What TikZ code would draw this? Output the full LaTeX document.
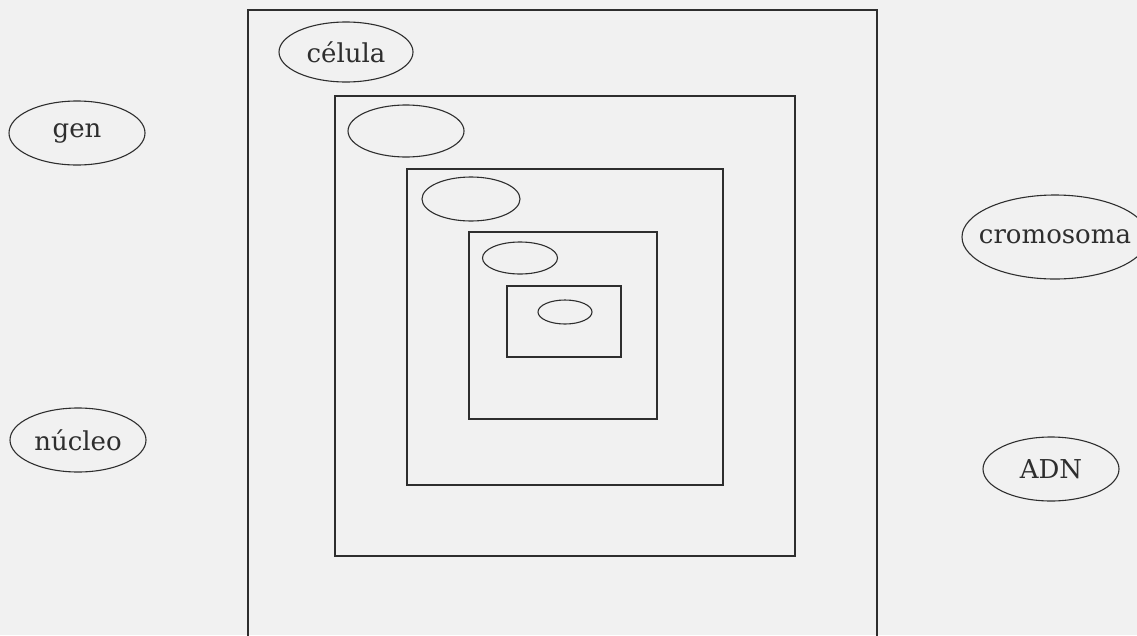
\documentclass[tikz,border=0pt]{standalone}
\usepackage{fontspec}
\setmainfont{DejaVu Serif}
\usetikzlibrary{shapes.geometric}
\definecolor{bg}{HTML}{F1F1F1}
\definecolor{ink}{HTML}{2E2E2E}
\tikzset{
  box/.style={draw=ink, line width=1.2pt},
  oval/.style={draw=ink, line width=1.1pt, ellipse, inner sep=0pt},
  lbl/.style={text=ink, font=\fontsize{26}{30}\selectfont},
}
\begin{document}
\begin{tikzpicture}[x=1pt,y=-1pt]
\useasboundingbox (0,0) rectangle (1137,635);
\clip (0,0) rectangle (1137,635);
\fill[bg] (0,0) rectangle (1137,635);
% nested boxes
\draw[box] (248,700) -- (248,10) -- (877,10) -- (877,700);
\node[box, draw, minimum width=460pt, minimum height=460pt, inner sep=0pt] (b2) at (565,326) {};
\node[box, draw, minimum width=316pt, minimum height=316pt, inner sep=0pt] (b3) at (565,327) {};
\node[box, draw, minimum width=188pt, minimum height=187pt, inner sep=0pt] (b4) at (563,325.5) {};
\node[box, draw, minimum width=114pt, minimum height=71pt, inner sep=0pt] (b5) at (564,321.5) {};
% ovals inside boxes
\node[oval, minimum width=134pt, minimum height=60pt, label={[lbl]center:célula}] (celula) at (346,52) {};
\node[oval, minimum width=116pt, minimum height=52pt] (o2) at (406,131) {};
\node[oval, minimum width=98pt, minimum height=44pt] (o3) at (471,199) {};
\node[oval, minimum width=75pt, minimum height=32pt] (o4) at (520,258) {};
\node[oval, minimum width=54pt, minimum height=24pt] (o5) at (565,312) {};
% labels outside
\node[oval, minimum width=136pt, minimum height=64pt, label={[lbl]center:gen}] (gen) at (77,133) {};
\node[oval, minimum width=136pt, minimum height=64pt, label={[lbl]center:núcleo}] (nucleo) at (78,440) {};
\node[oval, minimum width=186pt, minimum height=84pt, label={[lbl]center:cromosoma}] (cromo) at (1055,237) {};
\node[oval, minimum width=136pt, minimum height=64pt, label={[lbl]center:ADN}] (adn) at (1051,469) {};
\end{tikzpicture}
\end{document}
